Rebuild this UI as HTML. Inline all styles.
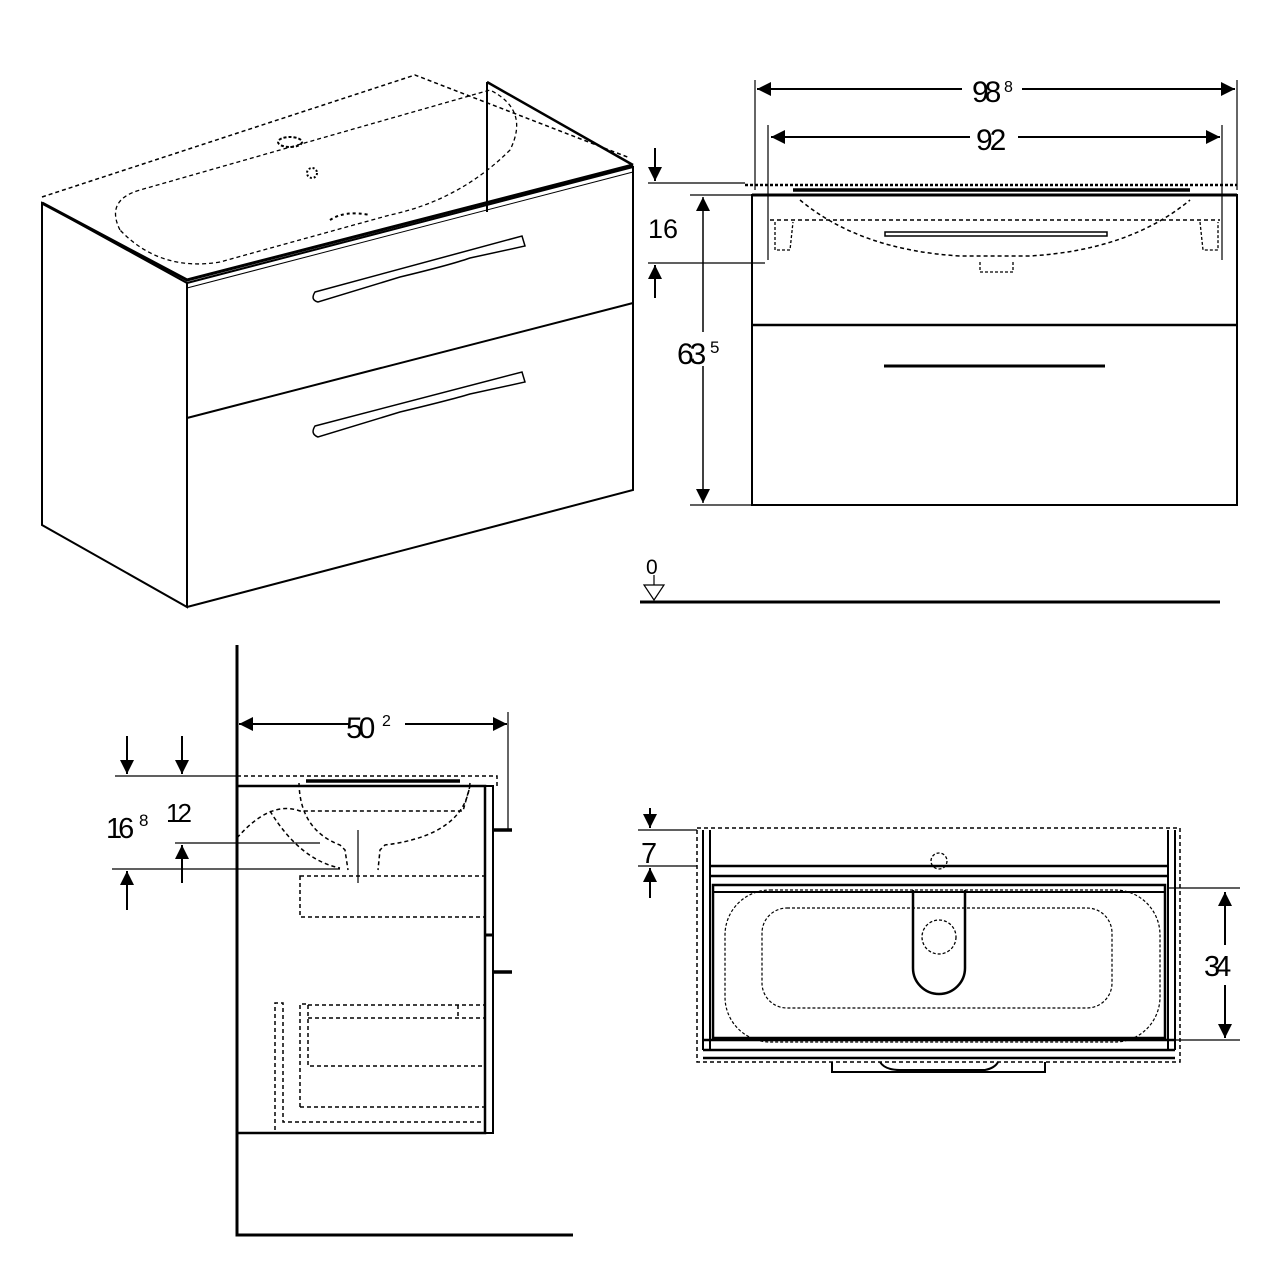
<!DOCTYPE html>
<html><head><meta charset="utf-8"><style>
html,body{margin:0;padding:0;background:#fff}
svg{display:block}
text{font-family:"Liberation Sans",sans-serif;fill:#000}
</style></head><body>
<svg width="1280" height="1280" viewBox="0 0 1280 1280" xmlns="http://www.w3.org/2000/svg">
<defs>
<marker id="ar" viewBox="0 0 10 10" refX="10" refY="5" markerWidth="22" markerHeight="14" orient="auto-start-reverse" markerUnits="userSpaceOnUse"><path d="M0,0 L10,5 L0,10 Z" fill="#000"/></marker>
</defs>
<g fill="none" stroke="#000" stroke-width="2">
<!-- ISO VIEW -->
<path d="M42,203 L187,283 L187,607 L42,525 Z" fill="#fff"/>
<path d="M187,283 L633,167 L633,490 L187,607" />
<path d="M187,418 L633,303" />
<path d="M187,288 L633,172" stroke-width="1"/>
<path d="M42,203 L187,280 L633,165" stroke-width="3"/>
<path d="M487,82 L487,212" stroke-width="2"/>
<path d="M487,82 L633,165" stroke-width="2.5"/>
<path d="M42,197 L415,75 L630,158" stroke-dasharray="4,3" stroke-width="1.5"/>
<path d="M120,230 Q105,200 140,190 L490,90 Q530,110 510,150 Q460,200 390,215 L220,262 Q160,272 120,230" stroke-dasharray="4,3" stroke-width="1.3"/>
<path d="M330,220 Q345,210 370,215" stroke-dasharray="3,3"/>
<ellipse cx="290" cy="142" rx="12" ry="5" stroke-dasharray="3,2"/>
<circle cx="312" cy="173" r="5" stroke-dasharray="2,2"/>
<path d="M315,292 L522,236 L525,246 L470,258 Q450,265 400,277 L318,302 Q310,300 315,292 Z" stroke-width="1.5"/>
<path d="M315,426 L522,372 L525,382 L470,394 Q450,400 400,412 L318,437 Q310,434 315,426 Z" stroke-width="1.5"/>
<!-- FRONT VIEW -->
<rect x="752" y="195" width="485" height="310"/>
<path d="M752,325 L1237,325" stroke-width="2.5"/>
<path d="M752,195 L1237,195" stroke-width="3"/>
<path d="M745,185 L1237,185" stroke-dasharray="3,2" stroke-width="2.5"/>
<path d="M793,190 L1190,190" stroke-width="3.5"/>
<path d="M800,200 Q860,250 960,256 L1030,256 Q1130,250 1190,200" stroke-dasharray="4,3" stroke-width="1.5"/>
<path d="M770,220 L1220,220" stroke-dasharray="4,3" stroke-width="1.5"/>
<path d="M775,222 L775,250 L790,250 L793,222 M1200,222 L1203,250 L1218,250 L1218,222" stroke-dasharray="3,2" stroke-width="1.3"/>
<rect x="885" y="232" width="222" height="4" stroke-width="1.5"/>
<path d="M980,262 L980,272 L1013,272 L1013,262" stroke-dasharray="3,2" stroke-width="1.3"/>
<path d="M884,366 L1105,366" stroke-width="3"/>
<path d="M755,80 L755,190 M1237,80 L1237,190 M768,125 L768,260 M1222,125 L1222,260" stroke-width="1.2"/>
<path d="M757,89 L962,89" marker-start="url(#ar)"/>
<path d="M1022,89 L1235,89" marker-end="url(#ar)"/>
<path d="M771,137 L970,137" marker-start="url(#ar)"/>
<path d="M1018,137 L1220,137" marker-end="url(#ar)"/>
<path d="M703,197 L703,503" marker-start="url(#ar)" marker-end="url(#ar)" stroke-width="1.5"/>
<path d="M690,195 L752,195 M690,505 L752,505 M648,183 L745,183 M648,263 L765,263" stroke-width="1.2"/>
<path d="M655,148 L655,181" marker-end="url(#ar)"/>
<path d="M655,298 L655,265" marker-end="url(#ar)"/>
<path d="M640,602 L1220,602" stroke-width="3"/>
<path d="M644,585 L664,585 L654,600 Z M654,575 L654,585" stroke-width="1.2"/>
<!-- SIDE VIEW -->
<path d="M237,645 L237,1235 L573,1235" stroke-width="3"/>
<rect x="237" y="786" width="248" height="347" stroke-width="2.5"/>
<rect x="485" y="786" width="8" height="347"/>
<path d="M485,935 L493,935" stroke-width="3"/>
<path d="M237,776 L497,776 L497,786" stroke-dasharray="4,3" stroke-width="1.5"/>
<path d="M306,781 L460,781" stroke-width="3.5"/>
<path d="M493,830 L512,830 M493,972 L512,972" stroke-width="3.5"/>
<path d="M299,783 Q300,830 340,845 L345,850 L348,870 M470,783 Q465,835 385,845 L380,850 L378,870" stroke-dasharray="4,3" stroke-width="1.5"/>
<path d="M237,838 Q270,800 300,811 L463,811 L470,786" stroke-dasharray="4,3" stroke-width="1.5"/>
<path d="M270,811 Q300,860 340,868" stroke-dasharray="4,3" stroke-width="1.5"/>
<rect x="300" y="876" width="185" height="41" stroke-dasharray="4,3" stroke-width="1.5"/>
<path d="M358,830 L358,883" stroke-width="1.2"/>
<path d="M275,1130 L275,1003 L283,1003 L283,1122 L485,1122" stroke-dasharray="4,3" stroke-width="1.5"/>
<path d="M300,1107 L300,1004 L308,1004 L308,1066 L485,1066 M308,1018 L485,1018 M308,1005 L485,1005 M458,1005 L458,1018" stroke-dasharray="4,3" stroke-width="1.5"/>
<path d="M300,1107 L485,1107" stroke-dasharray="4,3" stroke-width="1.5"/>
<path d="M239,724 L350,724" marker-start="url(#ar)"/>
<path d="M405,724 L507,724" marker-end="url(#ar)"/>
<path d="M508,712 L508,830" stroke-width="1.2"/>
<path d="M115,776 L237,776 M175,843 L320,843 M112,869 L340,869" stroke-width="1.2"/>
<path d="M127,736 L127,774" marker-end="url(#ar)"/>
<path d="M182,736 L182,774" marker-end="url(#ar)"/>
<path d="M182,883 L182,845" marker-end="url(#ar)"/>
<path d="M127,910 L127,871" marker-end="url(#ar)"/>
<!-- TOP VIEW -->
<rect x="697" y="828" width="483" height="234" stroke-dasharray="4,3" stroke-width="1.5"/>
<path d="M703,830 L703,1050 M710,830 L710,1050 M1168,830 L1168,1050 M1175,830 L1175,1050" />
<path d="M710,866 L1168,866 M710,876 L1168,876" stroke-width="2.5"/>
<rect x="713" y="885" width="452" height="153" stroke-width="2.5"/>
<path d="M713,892 L1165,892"/>
<path d="M703,1040 L1175,1040 M703,1050 L1175,1050 M703,1058 L1175,1058" stroke-width="2.5"/>
<rect x="725" y="890" width="435" height="152" rx="45" stroke-dasharray="3,2" stroke-width="1.2"/>
<rect x="762" y="908" width="350" height="100" rx="25" stroke-dasharray="3,2" stroke-width="1.2"/>
<path d="M913,890 L913,968 A25,25 0 0 0 965,968 L965,890" stroke-width="2.5"/>
<circle cx="939" cy="937" r="17" stroke-dasharray="3,2" stroke-width="1.3"/>
<circle cx="939" cy="861" r="8" stroke-dasharray="3,2" stroke-width="1.3"/>
<path d="M832,1062 L832,1072 L1045,1072 L1045,1062" />
<path d="M880,1062 Q885,1070 900,1070 L985,1070 Q995,1068 998,1062"/>
<path d="M1168,888 L1240,888 M1168,1040 L1240,1040 M638,830 L697,830 M638,866 L697,866" stroke-width="1.2"/>
<path d="M1225,892 L1225,945" marker-start="url(#ar)"/>
<path d="M1225,985 L1225,1038" marker-end="url(#ar)"/>
<path d="M650,808 L650,828" marker-end="url(#ar)"/>
<path d="M650,898 L650,868" marker-end="url(#ar)"/>
</g>
<g>
<rect x="962" y="74" width="60" height="30" fill="#fff"/>
<text x="972" y="102" font-size="30" letter-spacing="-4">98</text><text x="1004" y="92" font-size="16">8</text>
<text x="976" y="150" font-size="30" letter-spacing="-3">92</text>
<text x="648" y="238" font-size="27">16</text>
<rect x="676" y="332" width="48" height="34" fill="#fff"/>
<text x="677" y="364" font-size="30" letter-spacing="-4">63</text><text x="710" y="353" font-size="17">5</text>
<text x="646" y="574" font-size="21">0</text>
<rect x="350" y="708" width="55" height="32" fill="#fff"/>
<text x="346" y="738" font-size="30" letter-spacing="-4">50</text><text x="382" y="726" font-size="16">2</text>
<text x="106" y="838" font-size="29" letter-spacing="-4">16</text><text x="139" y="826" font-size="17">8</text>
<text x="166" y="822" font-size="26" letter-spacing="-3">12</text>
<text x="641" y="863" font-size="29">7</text>
<rect x="1205" y="945" width="40" height="40" fill="#fff"/>
<text x="1204" y="976" font-size="29" letter-spacing="-5">34</text>
</g>
</svg>
</body></html>
